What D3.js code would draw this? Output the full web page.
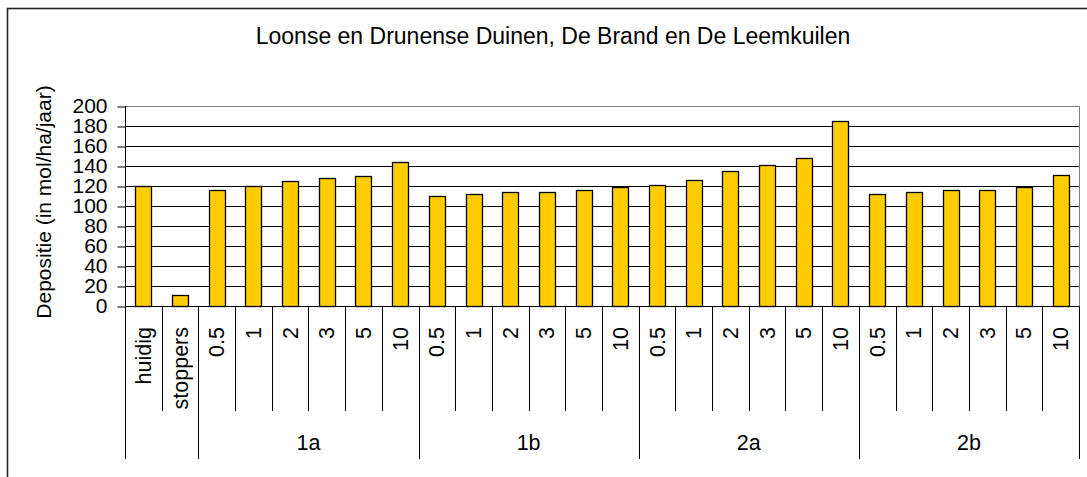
<!DOCTYPE html>
<html>
<head>
<meta charset="utf-8">
<script src="https://cdn.jsdelivr.net/npm/d3@7"></script>
<style>
  body { margin: 0; background: #fff; }
  text { font-family: "Liberation Sans", Arial, sans-serif; fill: #000; }
</style>
</head>
<body>
<div id="chart"></div>
<script>
// data
var title = "Loonse en Drunense Duinen, De Brand en De Leemkuilen";
var yLabel = "Depositie (in mol/ha/jaar)";
var groups = ["", "1a", "1b", "2a", "2b"];
var labels = ["huidig", "stoppers",
  "0.5", "1", "2", "3", "5", "10",
  "0.5", "1", "2", "3", "5", "10",
  "0.5", "1", "2", "3", "5", "10",
  "0.5", "1", "2", "3", "5", "10"];
var groupOf = [0, 0,
  1, 1, 1, 1, 1, 1,
  2, 2, 2, 2, 2, 2,
  3, 3, 3, 3, 3, 3,
  4, 4, 4, 4, 4, 4];
var values = [120, 11,
  116, 120, 125, 128, 130, 144,
  110, 112, 114, 114, 116, 119,
  121, 126, 135, 141, 148, 185,
  112, 114, 116, 116, 119, 131];
var yTicks = [0, 20, 40, 60, 80, 100, 120, 140, 160, 180, 200];

var W = 1087, H = 477;
var plotLeft = 125, plotRight = 1079, plotTop = 106, plotBottom = 306;

var svg = d3.select("#chart").append("svg")
  .attr("width", W).attr("height", H);

svg.append("rect").attr("width", W).attr("height", H).attr("fill", "#fff");

// outer chart frame (cut off at right and bottom)
svg.append("rect")
  .attr("x", 7.5).attr("y", 8.5)
  .attr("width", W + 20).attr("height", H + 20)
  .attr("fill", "none").attr("stroke", "#222").attr("stroke-width", 1.6);

var x = d3.scaleBand()
  .domain(d3.range(labels.length))
  .range([plotLeft, plotRight])
  .padding(0);

var y = d3.scaleLinear()
  .domain([0, 200])
  .range([plotBottom, plotTop]);

// gridlines
svg.append("g")
  .selectAll("line")
  .data(yTicks.slice(1))
  .enter().append("line")
    .attr("x1", plotLeft).attr("x2", plotRight)
    .attr("y1", d => Math.round(y(d)) + 0.5)
    .attr("y2", d => Math.round(y(d)) + 0.5)
    .attr("stroke", d => d == 200 ? "#808080" : "#000")
    .attr("stroke-width", 1);

// plot area right border
svg.append("line")
  .attr("x1", plotRight + 0.5).attr("x2", plotRight + 0.5)
  .attr("y1", plotTop).attr("y2", plotBottom)
  .attr("stroke", "#808080");

// bars
var bw = x.bandwidth() * 0.44;
svg.append("g")
  .selectAll("rect")
  .data(values)
  .enter().append("rect")
    .attr("x", (d, i) => Math.round(x(i) + (x.bandwidth() - bw) / 2) + 0.5)
    .attr("y", d => Math.round(y(d)) + 0.5)
    .attr("width", Math.round(bw))
    .attr("height", d => Math.round(y(0)) - Math.round(y(d)))
    .attr("fill", "#FFCC00")
    .attr("stroke", "#000")
    .attr("stroke-width", 1.3);

// y axis
var yAxis = svg.append("g")
  .attr("transform", "translate(" + (plotLeft + 0.5) + ",0)")
  .call(d3.axisLeft(y).tickValues(yTicks).tickSize(8).tickPadding(10));
yAxis.selectAll("path, line").attr("stroke", "#000");
yAxis.select(".domain").attr("d", "M0," + plotTop + "V" + (plotBottom + 0.5));
yAxis.selectAll("line").attr("transform", "translate(0,0.5)");
yAxis.selectAll("text")
  .attr("font-family", "Liberation Sans, Arial, sans-serif")
  .attr("font-size", 21)
  .attr("fill", "#000");

// x axis baseline
svg.append("line")
  .attr("x1", plotLeft).attr("x2", plotRight + 1)
  .attr("y1", plotBottom + 0.5).attr("y2", plotBottom + 0.5)
  .attr("stroke", "#000");

// category separators: long ones between groups, short ones inside
var bounds = d3.range(labels.length + 1);
svg.append("g")
  .selectAll("line")
  .data(bounds)
  .enter().append("line")
    .attr("x1", i => Math.round(i < labels.length ? x(i) : plotRight) + 0.5)
    .attr("x2", i => Math.round(i < labels.length ? x(i) : plotRight) + 0.5)
    .attr("y1", plotBottom)
    .attr("y2", i => (i == 0 || i == labels.length || groupOf[i] != groupOf[i - 1]) ? 459 : 411)
    .attr("stroke", "#000");

// category labels
svg.append("g")
  .selectAll("text")
  .data(labels)
  .enter().append("text")
    .attr("transform", (d, i) => "translate(" + (x(i) + x.bandwidth() / 2) + ",327) rotate(-90)")
    .attr("text-anchor", "end")
    .attr("dy", "0.35em")
    .attr("font-size", 21.5)
    .text(d => d);

// group labels
svg.append("g")
  .selectAll("text")
  .data(groups)
  .enter().append("text")
    .attr("x", (g, k) => {
      var idx = d3.range(labels.length).filter(i => groupOf[i] == k);
      return (x(idx[0]) + x(idx[idx.length - 1]) + x.bandwidth()) / 2;
    })
    .attr("y", 450)
    .attr("text-anchor", "middle")
    .attr("font-size", 21.5)
    .text(d => d);

// y axis title
svg.append("text")
  .attr("transform", "translate(51,202) rotate(-90)")
  .attr("text-anchor", "middle")
  .attr("font-size", 21)
  .text(yLabel);

// chart title
svg.append("text")
  .attr("x", 553).attr("y", 44)
  .attr("text-anchor", "middle")
  .attr("font-size", 23)
  .text(title);
</script>
</body>
</html>
